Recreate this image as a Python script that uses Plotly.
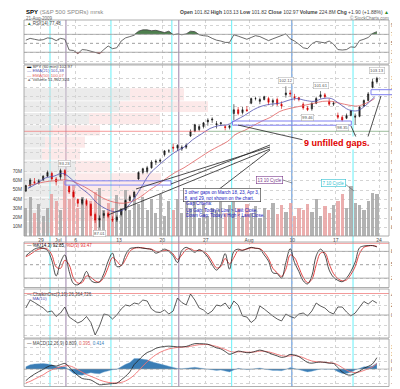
import plotly.graph_objects as go
import numpy as np

# ---------------- data ----------------
sessions = ["Jun25", "Jun26", "Jun29", "Jun30", "Jul01", "Jul02", "Jul06", "Jul07", "Jul08", "Jul09", "Jul10",
            "Jul13", "Jul14", "Jul15", "Jul16", "Jul17", "Jul20", "Jul21", "Jul22", "Jul23", "Jul24",
            "Jul27", "Jul28", "Jul29", "Jul30", "Jul31", "Aug03", "Aug04", "Aug05", "Aug06", "Aug07",
            "Aug10", "Aug11", "Aug12", "Aug13", "Aug14", "Aug17", "Aug18", "Aug19", "Aug20", "Aug21"]
first_session_day = -2          # day index of Jun25 (Jun29 = 0)
tick_days = [0, 2, 4, 9, 14, 19, 24, 29, 34, 39]
tick_text = ["29", "Jul", "6", "13", "20", "27", "Aug", "10", "17", "24"]

# two bars per session (AM / PM)
opens = [90.9, 91.5, 91.9, 91.8, 92.1, 92.5, 92.8, 92.2, 92.4, 93.1, 91.4, 90.8, 90.0, 89.6, 89.9, 89.5,
         88.4, 87.8, 88.3, 88.5, 87.9, 87.8, 88.4, 88.9, 89.9, 90.3, 92.2, 92.9, 93.0, 93.4, 94.0, 94.1,
         94.8, 95.2, 95.6, 95.5, 95.4, 95.6, 96.8, 97.3, 97.5, 97.8, 98.3, 98.5, 98.0, 98.1, 97.8, 97.7,
         99.2, 99.6, 99.3, 99.6, 100.3, 100.8, 100.5, 100.7, 100.8, 100.4, 100.7, 100.2, 101.2, 101.4,
         101.0, 100.9, 100.2, 99.8, 99.7, 100.3, 101.0, 101.2, 100.5, 100.2, 99.0, 98.8, 98.7, 99.0,
         98.8, 98.9, 100.0, 100.6, 102.0, 102.6]
highs = [91.6, 92.3, 92.3, 92.2, 92.6, 93.1, 93.0, 92.4, 93.3, 93.25, 91.55, 91.0, 90.1, 90.2, 90.1, 89.6,
         88.6, 88.3, 88.8, 88.7, 88.2, 88.3, 89.0, 90.0, 90.5, 90.9, 93.0, 93.4, 93.6, 94.2, 94.3, 94.4,
         95.3, 95.4, 96.0, 95.9, 95.8, 96.0, 97.5, 98.1, 98.0, 98.3, 98.7, 98.8, 98.4, 98.3, 98.0, 97.95,
         100.2, 99.9, 99.9, 100.0, 100.9, 101.0, 100.9, 101.1, 101.0, 100.8, 100.9, 100.5, 102.1, 101.7,
         101.3, 101.0, 100.4, 100.0, 100.4, 101.0, 101.6, 101.4, 100.8, 100.5, 99.3, 99.0, 99.2, 99.6,
         99.2, 100.0, 100.7, 101.5, 102.9, 103.13]
lows = [90.8, 91.3, 91.6, 91.6, 92.0, 92.4, 92.0, 91.5, 92.1, 92.05, 90.6, 90.2, 89.2, 89.4, 89.3, 88.2,
        87.5, 87.0, 88.0, 88.0, 87.6, 87.6, 88.2, 88.8, 89.8, 90.2, 92.1, 92.7, 92.8, 93.3, 93.7, 93.9,
        94.6, 95.0, 95.1, 95.2, 95.2, 95.4, 96.7, 97.2, 97.3, 97.6, 97.9, 98.2, 97.6, 97.9, 97.4, 97.5,
        98.5, 99.0, 99.1, 99.4, 100.2, 100.6, 100.2, 100.6, 100.1, 100.0, 100.0, 99.7, 100.9, 101.0,
        100.6, 100.5, 99.6, 99.46, 99.5, 100.2, 100.8, 100.8, 100.0, 100.0, 98.6, 98.35, 98.6, 98.9,
        98.0, 98.8, 99.9, 100.5, 101.9, 102.4]
closes = [91.5, 92.1, 91.8, 92.0, 92.5, 92.9, 92.2, 91.9, 93.1, 92.6, 90.8, 90.3, 89.6, 90.0, 89.5, 88.3,
          87.8, 88.0, 88.5, 88.2, 87.8, 88.1, 88.9, 89.9, 90.3, 90.8, 92.9, 93.3, 93.4, 94.0, 94.1, 94.2,
          95.2, 95.2, 95.5, 95.8, 95.6, 95.8, 97.3, 98.0, 97.8, 98.2, 98.5, 98.6, 98.1, 98.2, 97.7, 97.9,
          99.6, 99.2, 99.6, 99.5, 100.8, 100.8, 100.7, 101.0, 100.4, 100.6, 100.2, 100.0, 101.4, 101.3,
          100.9, 100.7, 99.8, 99.6, 100.3, 100.8, 101.2, 101.0, 100.2, 100.3, 98.8, 98.5, 99.0, 99.5,
          98.9, 99.9, 100.6, 101.3, 102.6, 102.97]
volume_m = [30, 42, 25, 35, 22, 30, 45, 38, 28, 60, 40, 55, 30, 42, 35, 38, 48, 52, 28, 36, 30, 44,
            30, 50, 28, 45, 35, 42, 28, 40, 25, 45, 22, 38, 28, 40, 25, 42, 30, 38, 20, 35, 22, 30,
            28, 38, 25, 34, 40, 30, 22, 35, 25, 32, 20, 30, 28, 36, 24, 34, 26, 36, 22, 30, 28, 35,
            26, 40, 22, 32, 25, 34, 38, 45, 30, 54, 36, 34, 28, 38, 46, 45]

# one value per session
ema21 = [91.2, 91.7, 92.3, 92.5, 92.8, 92.2, 91.3, 90.6, 89.6, 89.0, 88.7, 88.9, 89.8, 91.2, 92.7, 93.6,
         94.4, 95.1, 95.6, 96.4, 97.0, 97.6, 97.9, 98.0, 98.5, 99.0, 99.6, 100.0, 100.2, 100.3, 100.6,
         100.8, 100.6, 100.5, 100.8, 100.8, 100.2, 99.6, 99.5, 100.1, 101.0]
ema50 = [91.5, 91.7, 91.9, 92.0, 92.1, 92.0, 91.6, 91.1, 90.5, 90.0, 89.7, 89.6, 89.8, 90.3, 91.0, 91.6,
         92.3, 92.9, 93.4, 94.0, 94.6, 95.2, 95.7, 96.2, 97.0, 97.4, 97.9, 98.4, 98.8, 99.4, 99.7, 99.9,
         100.1, 100.3, 100.5, 100.5, 100.3, 100.1, 100.0, 100.3, 100.8]

rsi = [57, 61, 59, 57, 58, 62, 61, 56, 61, 59, 35, 34, 27, 36, 35, 32, 29, 27, 36, 44, 38, 40, 55, 62,
       65, 68, 77, 80, 80, 78, 79, 76, 74, 77, 69, 71, 69, 71, 77, 76, 69, 67, 66, 61, 57, 55, 52, 52,
       69, 66, 62, 59, 63, 67, 65, 60, 56, 60, 64, 68, 71, 60, 55, 48, 40, 38, 49, 54, 52, 51, 55, 48,
       36, 35, 36, 42, 41, 56, 59, 63, 72, 76]
stoch_k = [70, 78, 85, 88, 87, 82, 60, 25, 55, 72, 35, 8, 5, 15, 35, 15, 10, 12, 30, 58, 76, 46, 48, 72,
           86, 88, 89, 87, 86, 84, 76, 80, 85, 80, 70, 55, 82, 89, 84, 78, 84, 78, 67, 50, 38, 50, 75, 40,
           80, 85, 82, 86, 89, 87, 85, 72, 58, 32, 30, 20, 55, 86, 55, 35, 14, 7, 25, 70, 85, 72, 38, 22,
           15, 12, 20, 35, 56, 88, 92, 93, 93, 90]
stoch_d = [68, 73, 80, 85, 87, 85, 72, 45, 42, 60, 50, 20, 9, 10, 25, 22, 14, 11, 22, 44, 66, 58, 48, 62,
           80, 87, 88, 88, 86, 85, 80, 79, 82, 82, 74, 62, 72, 84, 86, 81, 82, 80, 72, 57, 43, 46, 64, 52,
           66, 82, 83, 85, 88, 87, 86, 78, 64, 42, 32, 24, 40, 72, 66, 44, 22, 10, 17, 50, 76, 77, 52, 30,
           19, 14, 16, 28, 46, 75, 89, 92, 93, 91]
chaikin_m = [14, 30, 25, 20, 14, 6, 8, -3, 4, 16, -4, -10, -16, -12, -3, -15, -40, -22, 2, 0, -8, 0, 12, 20,
             18, 24, 22, 30, 28, 12, 6, 5, 10, 2, 8, 34, 25, 20, 42, 30, 14, 10, 2, 8, 20, 18, 24, 12,
             28, 20, -2, -4, -15, -8, 18, 12, 4, -2, -8, -12, 2, -3, -6, 2, 4, -2, 8, 24, 18, 14, 6, 2,
             16, 16, 6, -2, 4, 16, 27, 22, 29, 24]
macd = [-0.80, -0.55, -0.35, -0.18, -0.02, 0.15, 0.25, 0.20, 0.30, 0.38, 0.15, -0.18, -0.45, -0.65, -0.70,
        -0.75, -0.92, -1.08, -1.06, -1.03, -1.00, -0.97, -0.75, -0.50, -0.20, 0.30, 0.60, 0.90, 1.13, 1.25,
        1.42, 1.50, 1.55, 1.57, 1.55, 1.52, 1.52, 1.55, 1.65, 1.74, 1.74, 1.73, 1.70, 1.58, 1.45, 1.38,
        1.20, 1.02, 1.10, 1.23, 1.18, 1.12, 1.14, 1.22, 1.30, 1.22, 1.12, 1.00, 0.90, 0.80, 0.85, 1.00,
        0.95, 0.85, 0.65, 0.45, 0.40, 0.45, 0.48, 0.45, 0.40, 0.38, 0.10, -0.20, -0.38, -0.42, -0.30,
        -0.15, 0.05, 0.18, 0.35, 0.78]
signal = [-0.95, -0.85, -0.70, -0.55, -0.40, -0.20, -0.05, 0.05, 0.15, 0.22, 0.22, 0.12, -0.05, -0.22,
          -0.38, -0.50, -0.62, -0.75, -0.85, -0.92, -0.95, -0.96, -0.92, -0.82, -0.65, -0.42, -0.12, 0.20,
          0.50, 0.75, 0.98, 1.15, 1.28, 1.38, 1.44, 1.48, 1.50, 1.52, 1.56, 1.62, 1.67, 1.68, 1.68, 1.62,
          1.55, 1.45, 1.35, 1.22, 1.16, 1.18, 1.18, 1.16, 1.15, 1.18, 1.23, 1.22, 1.18, 1.10, 1.00, 0.92,
          0.88, 0.90, 0.92, 0.88, 0.78, 0.65, 0.55, 0.50, 0.48, 0.46, 0.43, 0.40, 0.28, 0.10, -0.08, -0.20,
          -0.24, -0.20, -0.10, 0.02, 0.15, 0.37]

# volume by price zones (low, high) with up / down volume (M shares)
vbp_low = [100.6, 99.35, 98.05, 96.85, 95.55, 94.25, 92.9, 91.6, 90.3, 89.0, 87.7, 86.4]
vbp_high = [101.9, 100.5, 99.25, 97.95, 96.75, 95.45, 94.15, 92.8, 91.5, 90.2, 88.9, 87.6]
vbp_up = [530, 475, 325, 145, 105, 90, 255, 255, 200, 175, 150, 50]
vbp_down = [270, 445, 355, 235, 200, 190, 175, 430, 400, 350, 300, 100]

# annotated price points (session index, half, price, text, above?)
price_labels = [(4, 1, 93.25, "93.23", True), (8, 1, 87.0, "87.01", False), (30, 0, 102.1, "102.12", True),
                (32, 1, 99.46, "99.46", False), (34, 0, 101.6, "101.61", True), (36, 1, 98.35, "98.35", False),
                (40, 1, 103.13, "103.13", True)]
# gaps (start day, end day, low, high)
gap_boxes = [(2.77, 15.0, 91.55, 92.0), (22.1, 35.8, 97.95, 98.4)]
cycle_days = [1.04, 2.88, 8.07, 15.1, 15.9, 22.0, 28.95, 36.0]
cycle_colors = ["#66f0f8", "#9a80a8", "#66f0f8", "#66f0f8", "#9a80a8", "#66f0f8", "#4a86d0", "#66f0f8"]

# ---------------- derived positions ----------------
x_bar = [k + first_session_day + 0.25 + 0.5 * h for k in range(len(sessions)) for h in (0, 1)]
x_sess = [k + first_session_day + 0.5 for k in range(len(sessions))]
XR = [-1.96, 40.15]

def PX(x):
    return x / 400.0

def PY(y):
    return 1 - y / 389.0

XD = [PX(16), PX(381)]
D_RSI = [PY(56), PY(12)]
D_PRICE = [PY(228), PY(57)]
D_STO = [PY(279.5), PY(234)]
D_CHK = [PY(330), PY(281)]
D_MACD = [PY(378.5), PY(331)]

FONT = "Liberation Sans"
GRID = "#d4d4d4"
fig = go.Figure()

# RSI panel
rsi_arr = np.array(rsi, dtype=float)
fig.add_trace(go.Scatter(x=x_bar, y=[70] * len(x_bar), mode="lines", line=dict(width=0), xaxis="x", yaxis="y",
                         hoverinfo="skip"))
fig.add_trace(go.Scatter(x=x_bar, y=np.maximum(rsi_arr, 70), mode="lines", line=dict(width=0), fill="tonexty",
                         fillcolor="#4e7f4e", xaxis="x", yaxis="y", hoverinfo="skip"))
fig.add_trace(go.Scatter(x=x_bar, y=[30] * len(x_bar), mode="lines", line=dict(width=0), xaxis="x", yaxis="y",
                         hoverinfo="skip"))
fig.add_trace(go.Scatter(x=x_bar, y=np.minimum(rsi_arr, 30), mode="lines", line=dict(width=0), fill="tonexty",
                         fillcolor="#c84040", xaxis="x", yaxis="y", hoverinfo="skip"))
fig.add_trace(go.Scatter(x=x_bar, y=rsi, mode="lines", line=dict(color="#444", width=0.8), xaxis="x", yaxis="y"))

# price panel: volume bars on x7/y8, candles + EMAs on x7/y9
vol_colors = ["rgba(232,160,160,0.85)" if c < o else "rgba(165,165,165,0.85)" for o, c in zip(opens, closes)]
fig.add_trace(go.Bar(x=x_bar, y=volume_m, width=0.38, marker=dict(color=vol_colors, line=dict(width=0)),
                     xaxis="x7", yaxis="y8"))
fig.add_trace(go.Scatter(x=x_sess, y=ema50, mode="lines", line=dict(color="#e06060", width=0.8, shape="spline"),
                         xaxis="x7", yaxis="y9"))
fig.add_trace(go.Scatter(x=x_sess, y=ema21, mode="lines", line=dict(color="#5050b0", width=0.8, shape="spline"),
                         xaxis="x7", yaxis="y9"))
fig.add_trace(go.Candlestick(x=x_bar, open=opens, high=highs, low=lows, close=closes, whiskerwidth=0,
                             increasing=dict(line=dict(color="#111", width=0.6), fillcolor="#333"),
                             decreasing=dict(line=dict(color="#d40000", width=0.6), fillcolor="#d40000"),
                             xaxis="x7", yaxis="y9"))

# stochastics
fig.add_trace(go.Scatter(x=x_bar, y=stoch_d, mode="lines", line=dict(color="#e03030", width=0.9, shape="spline"),
                         xaxis="x3", yaxis="y3"))
fig.add_trace(go.Scatter(x=x_bar, y=stoch_k, mode="lines", line=dict(color="#222", width=0.8, shape="spline"),
                         xaxis="x3", yaxis="y3"))
# oscillator panel
fig.add_trace(go.Scatter(x=x_bar, y=chaikin_m, mode="lines", line=dict(color="#333", width=0.8),
                         xaxis="x4", yaxis="y4"))
# MACD
hist = [m - s for m, s in zip(macd, signal)]
fig.add_trace(go.Scatter(x=x_bar, y=hist, mode="lines", line=dict(color="#7fb0d8", width=0.4), fill="tozeroy",
                         fillcolor="#3a7db5", xaxis="x5", yaxis="y5"))
fig.add_trace(go.Scatter(x=x_bar, y=signal, mode="lines", line=dict(color="#f07070", width=0.9, shape="spline"),
                         xaxis="x5", yaxis="y5"))
fig.add_trace(go.Scatter(x=x_bar, y=macd, mode="lines", line=dict(color="#222", width=0.8, shape="spline"),
                         xaxis="x5", yaxis="y5"))

tickfont = dict(family=FONT, size=4.8, color="#444")

def xax(anchor, labels=False, overlay=None):
    d = dict(domain=XD, range=XR, anchor=anchor, tickvals=tick_days, ticktext=tick_text,
             showticklabels=labels, ticks="", showgrid=True, gridcolor=GRID, griddash="dot", gridwidth=0.6,
             zeroline=False, showline=False, tickfont=dict(family=FONT, size=5, color="#444"),
             fixedrange=True, ticklabelstandoff=0)
    if overlay:
        d["overlaying"] = overlay
    return d

def yax(domain, rng, vals, texts=None, side="right", anchor="x", grid=True):
    return dict(domain=domain, range=rng, anchor=anchor, side=side, tickvals=vals,
                ticktext=texts if texts else [str(v) for v in vals], ticks="", showgrid=grid,
                gridcolor=GRID, griddash="dot", gridwidth=0.6, zeroline=False, showline=False,
                tickfont=tickfont, fixedrange=True, ticklabelstandoff=1)

layout = dict(
    width=400, height=389, margin=dict(l=0, r=0, t=0, b=0), paper_bgcolor="white", plot_bgcolor="white",
    showlegend=False, bargap=0, barmode="overlay", boxgap=0.6,
    xaxis=xax("y"),
    yaxis=yax(D_RSI, [3.8, 102], [10, 30, 50, 70, 90], anchor="x"),
    xaxis2=dict(domain=XD, range=[0, 1825], anchor="y9", visible=False, fixedrange=True),
    yaxis9=yax(D_PRICE, [86.1, 104.39], list(range(87, 104)), anchor="x2"),
    xaxis7=dict(xax("y9", labels=True, overlay="x2"), rangeslider=dict(visible=False)),
    yaxis8=dict(yax(D_PRICE, [0, 185], [10, 20, 30, 40, 50, 60, 70],
                    ["10M", "20M", "30M", "40M", "50M", "60M", "70M"], side="left", anchor="x7", grid=False),
                overlaying="y9"),
    xaxis3=xax("y3"),
    yaxis3=yax(D_STO, [-1, 101], [20, 50, 80], anchor="x3"),
    xaxis4=xax("y4"),
    yaxis4=yax(D_CHK, [-46, 52], [-40, -20, 0, 20, 40], ["-40M", "-20M", "0", "20M", "40M"], anchor="x4"),
    xaxis5=xax("y5", labels=True),
    yaxis5=yax(D_MACD, [-1.2, 2.06], [-1.0, -0.5, 0.0, 0.5, 1.0, 1.5],
               ["-1.0", "-0.5", "0.0", "0.5", "1.0", "1.5"], anchor="x5"),
)
fig.update_layout(**layout)

shapes = []
# volume-by-price bars (price zones on y9, volume on hidden x2)
for lo, hi, up, dn in zip(vbp_low, vbp_high, vbp_up, vbp_down):
    shapes.append(dict(type="rect", xref="x2", yref="y9", x0=0, x1=up, y0=lo, y1=hi, layer="below",
                       fillcolor="rgba(215,215,215,0.5)", line=dict(width=0)))
    shapes.append(dict(type="rect", xref="x2", yref="y9", x0=up, x1=up + dn, y0=lo, y1=hi, layer="below",
                       fillcolor="rgba(248,200,200,0.4)", line=dict(width=0)))
# level lines
for yv, dash in [(70, "solid"), (30, "solid"), (50, "dot")]:
    shapes.append(dict(type="line", xref="x", yref="y", x0=XR[0], x1=XR[1], y0=yv, y1=yv,
                       line=dict(color="#9a9a9a", width=0.8, dash=dash)))
for yv, dash in [(80, "solid"), (20, "solid"), (50, "dot")]:
    shapes.append(dict(type="line", xref="x3", yref="y3", x0=XR[0], x1=XR[1], y0=yv, y1=yv,
                       line=dict(color="#9a9a9a", width=0.8, dash=dash)))
shapes.append(dict(type="line", xref="x3", yref="y3", x0=XR[0], x1=XR[1], y0=98, y1=98,
                   line=dict(color="#f08080", width=0.8)))
shapes.append(dict(type="line", xref="x4", yref="y4", x0=XR[0], x1=XR[1], y0=0, y1=0,
                   line=dict(color="#9a9a9a", width=0.8)))
shapes.append(dict(type="line", xref="x4", yref="y4", x0=XR[0], x1=XR[1], y0=43, y1=43,
                   line=dict(color="#f08080", width=0.8)))
shapes.append(dict(type="line", xref="x5", yref="y5", x0=XR[0], x1=XR[1], y0=0, y1=0,
                   line=dict(color="#9a9a9a", width=0.6)))
shapes.append(dict(type="line", xref="x7", yref="y9", x0=XR[0], x1=19.3, y0=97.3, y1=97.3,
                   line=dict(color="#f07070", width=0.7)))
shapes.append(dict(type="line", xref="x7", yref="y9", x0=19.3, x1=XR[1], y0=97.3, y1=97.3,
                   line=dict(color="#70a070", width=0.7)))
# cycle lines
for d, c in zip(cycle_days, cycle_colors):
    shapes.append(dict(type="line", xref="x7", yref="paper", x0=d, x1=d, y0=PY(378.5), y1=PY(12),
                       line=dict(color=c, width=1), layer="below"))
# panel frames
for dom in [D_RSI, D_PRICE, D_STO, D_CHK, D_MACD]:
    shapes.append(dict(type="rect", xref="paper", yref="paper", x0=XD[0], x1=XD[1], y0=dom[0], y1=dom[1],
                       line=dict(color="#9a9a9a", width=0.8)))
# gap boxes
for x0, x1, lo, hi in gap_boxes:
    shapes.append(dict(type="rect", xref="x7", yref="y9", x0=x0, x1=x1, y0=lo, y1=hi,
                       line=dict(color="#8080f0", width=1)))
shapes.append(dict(type="rect", xref="paper", yref="paper", x0=PX(363), x1=PX(398), y0=PY(86.7), y1=PY(81.7),
                   line=dict(color="#8080f0", width=1)))
# callout lines for "9 unfilled gaps."
for (xa, ya, xb, yb) in [(262, 137, 163, 176), (262, 139, 128, 181), (262, 141, 100, 207),
                         (300, 133, 230, 117), (357, 138, 373, 88), (352, 138, 343, 118)]:
    shapes.append(dict(type="line", xref="paper", yref="paper", x0=PX(xa), y0=PY(ya), x1=PX(xb), y1=PY(yb),
                       line=dict(color="#222", width=0.8)))
shapes.append(dict(type="line", xref="paper", yref="paper", x0=PX(275), y0=PY(172), x1=PX(284), y1=PY(175),
                   line=dict(color="#555", width=0.6)))
shapes.append(dict(type="line", xref="paper", yref="paper", x0=PX(337), y0=PY(176), x1=PX(346), y1=PY(183),
                   line=dict(color="#555", width=0.6)))
shapes.append(dict(type="line", xref="paper", yref="paper", x0=PX(210), y0=PY(182), x1=PX(262), y1=PY(142),
                   line=dict(color="#222", width=0.8)))
fig.update_layout(shapes=shapes)

ann = []

def txt(x, y, s, size=5.5, color="#333", xanchor="left", bold=False, **kw):
    if bold:
        s = "<b>" + s + "</b>"
    ann.append(dict(x=PX(x), y=PY(y), xref="paper", yref="paper", text=s, showarrow=False, xanchor=xanchor,
                    yanchor="middle", font=dict(family=FONT, size=size, color=color), **kw))

txt(16, 4, "<b>SPY</b> <span style='color:#888'>(S&P 500 SPDRs) mrsk</span>", size=6, color="#000")
txt(16, 10, "21-Aug-2009", size=4.5, color="#666")
txt(383, 4, "<b>Open</b> 101.82 <b>High</b> 103.13 <b>Low</b> 101.82 <b>Close</b> 102.97 "
            "<b>Volume</b> 224.8M <b>Chg</b> +1.90 (+1.88%) <span style='color:#2a8a2a'>▲</span>",
    size=5, color="#444", xanchor="right")
txt(383, 10.5, "© StockCharts.com", size=4.5, color="#777", xanchor="right")
txt(17, 15, "<span style='color:#2a6a2a'>▲</span> RSI(14) 77.48", size=4.5, color="#444")
txt(17, 58.5, "<span style='color:#000'>▬</span> SPY (60 min) 102.97", size=4.3, color="#444")
txt(17, 62.8, "<span style='color:#5050b0'>—</span> EMA(21) 101.38", size=4.3, color="#5050b0")
txt(17, 67.1, "<span style='color:#e06060'>—</span> EMA(50) 100.07", size=4.3, color="#e06060")
txt(17, 71.4, "<span style='color:#888'>▲</span> Volume 51,962,324", size=4.3, color="#444")
txt(17, 237, "— <span style='color:#000'>%K(14,3) 92.85,</span> <span style='color:#e03030'>%D(3) 93.47</span>",
    size=4.5, color="#444")
txt(17, 286, "— ChaikinOsc(3,10) 26,364,726", size=4.5, color="#444")
txt(17, 290.5, "<span style='color:#5050b0'>— MA(10)</span>", size=4.3, color="#5050b0")
txt(17, 335, "— MACD(12,26,9) 0.809, <span style='color:#e06060'>0.395,</span> "
             "<span style='color:#3a7db5'>0.414</span>", size=4.5, color="#444")
# notes
txt(329, 135, "9 unfilled gaps.", size=9, color="#e00000", xanchor="center", bold=True,
    bgcolor="white", borderpad=1)
txt(261, 171.5, "13 10 Cycle", size=4.5, color="#7a3a8a", xanchor="center", bgcolor="white",
    bordercolor="#7a3a8a", borderwidth=0.6, borderpad=1)
txt(325, 175, "7 10 Cycle", size=4.5, color="#30c0d0", xanchor="center", bgcolor="white",
    bordercolor="#30c0d0", borderwidth=0.6, borderpad=1)
txt(214, 186.5, "3 other gaps on March 18, 23, Apr 3,<br>8, and 29, not shown on the chart.", size=4.6,
    color="#2020c0", xanchor="center", bgcolor="white", bordercolor="#333", borderwidth=0.6, borderpad=1,
    align="left")
txt(176, 195.5, "Gap Criteria:", size=4.6, color="#2020c0")
txt(176, 202, "Up Gap: Today's Low > Last Close.", size=4.6, color="#2020c0")
txt(176, 207.5, "Down Gap: Today's High < Last Close.", size=4.6, color="#2020c0")

for (k, h, p, s, above) in price_labels:
    ann.append(dict(x=x_bar[2 * k + h], y=p, xref="x7", yref="y9", text=s, showarrow=False,
                    yshift=6 if above else -6, font=dict(family=FONT, size=4.3, color="#555"),
                    bgcolor="white", bordercolor="#aaa", borderwidth=0.5, borderpad=0.5))
fig.update_layout(annotations=ann)

fig.write_html("out.html")
